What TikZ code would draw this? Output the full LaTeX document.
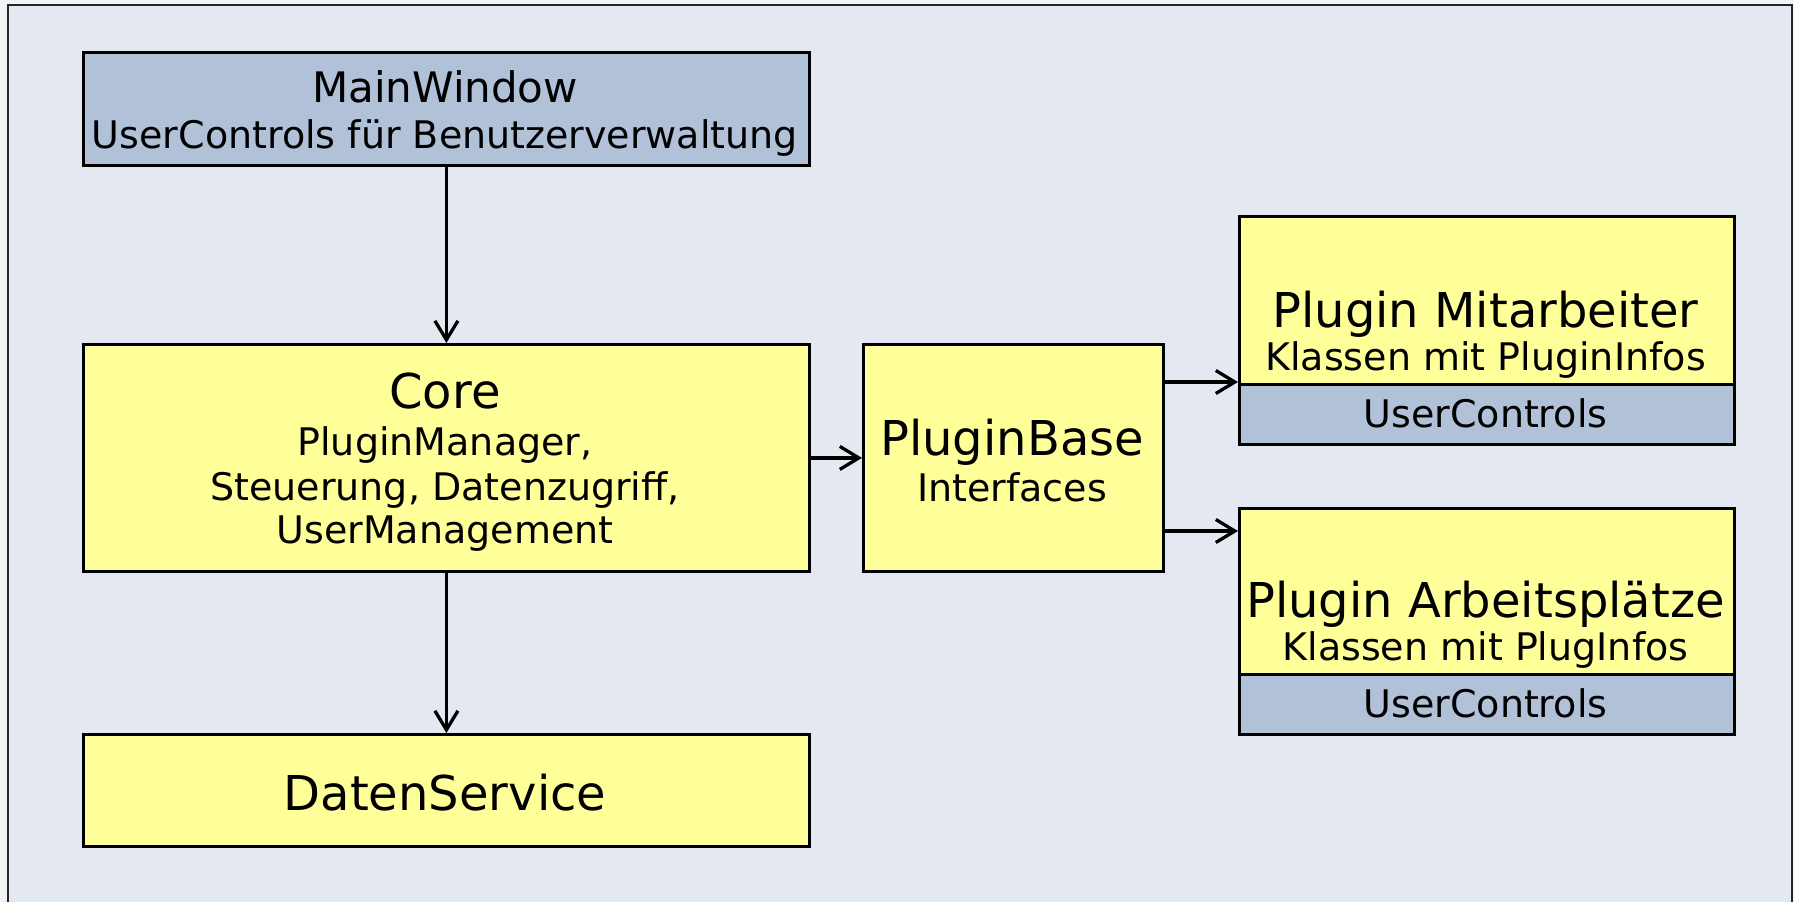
\documentclass[tikz,border=0pt]{standalone}
\usepackage{fontspec}
\setmainfont{DejaVu Sans}
\usetikzlibrary{arrows.meta}
\definecolor{bgout}{HTML}{F2F3F6}
\definecolor{bgin}{HTML}{E4E9F1}
\definecolor{ylw}{HTML}{FFFF99}
\definecolor{blu}{HTML}{B0C1D8}
\begin{document}
\begin{tikzpicture}[x=1pt,y=-1pt,
  box/.style={draw=black, line width=2.8pt, rectangle, inner sep=0pt},
  ybox/.style={box, fill=ylw},
  bbox/.style={box, fill=blu},
  ttl/.style={anchor=base, inner sep=0pt, font=\fontsize{48}{56}\selectfont},
  ttlsm/.style={anchor=base, inner sep=0pt, font=\fontsize{42}{48}\selectfont},
  sub/.style={anchor=base, inner sep=0pt, font=\fontsize{38}{44}\selectfont},
  arr/.style={line width=3.3pt, -{Straight Barb[length=19pt,width=23pt,line width=3.3pt]}}
]
\fill[bgout] (0,0) rectangle (1794,902);
\useasboundingbox (0,0) rectangle (1794,902);
\draw[line width=2pt, fill=bgin, draw=black!85] (8,5) rectangle (1792,915);

% boxes
\node[bbox, anchor=north west, minimum width=726pt, minimum height=113pt] (mw) at (82,51) {};
\node[ybox, anchor=north west, minimum width=726pt, minimum height=227pt] (core) at (82,343) {};
\node[ybox, anchor=north west, minimum width=726pt, minimum height=112pt] (ds) at (82,733) {};
\node[ybox, anchor=north west, minimum width=300pt, minimum height=227pt] (pb) at (862,343) {};
\node[ybox, anchor=north west, minimum width=495pt, minimum height=168pt] (pm) at (1238,215) {};
\node[bbox, anchor=north west, minimum width=495pt, minimum height=60pt] (pmu) at (1238,383) {};
\node[ybox, anchor=north west, minimum width=495pt, minimum height=166pt] (pa) at (1238,507) {};
\node[bbox, anchor=north west, minimum width=495pt, minimum height=60pt] (pau) at (1238,673) {};

% texts
\node[ttlsm] (mwt) at (445,102) {MainWindow};
\node[sub] (mws) at (445,148) {UserControls für Benutzerverwaltung};
\node[ttl] (coret) at (445,408) {Core};
\node[sub] (cores1) at (445,455) {PluginManager,};
\node[sub] (cores2) at (445,500) {Steuerung, Datenzugriff,};
\node[sub] (cores3) at (445,543) {UserManagement};
\node[ttl] (dst) at (445,810) {DatenService};
\node[ttl] (pbt) at (1012,455) {PluginBase};
\node[sub] (pbs) at (1012,501) {Interfaces};
\node[ttl] (pmt) at (1485.5,327) {Plugin Mitarbeiter};
\node[sub] (pms) at (1485.5,370) {Klassen mit PluginInfos};
\node[sub] (pmut) at (1485.5,427) {UserControls};
\node[ttl] (pat) at (1485.5,617) {Plugin Arbeitsplätze};
\node[sub] (pas) at (1485.5,660) {Klassen mit PlugInfos};
\node[sub] (paut) at (1485.5,717) {UserControls};

% connectors
\coordinate (pmin) at (1238,382);
\coordinate (pain) at (1238,531);
\draw[arr] (mw.south) -- (core.north);
\draw[arr] (core.south) -- (ds.north);
\draw[arr] (core.east) -- (pb.west);
\draw[arr] (pb.east |- pmin) -- (pmin);
\draw[arr] (pb.east |- pain) -- (pain);
\end{tikzpicture}
\end{document}
